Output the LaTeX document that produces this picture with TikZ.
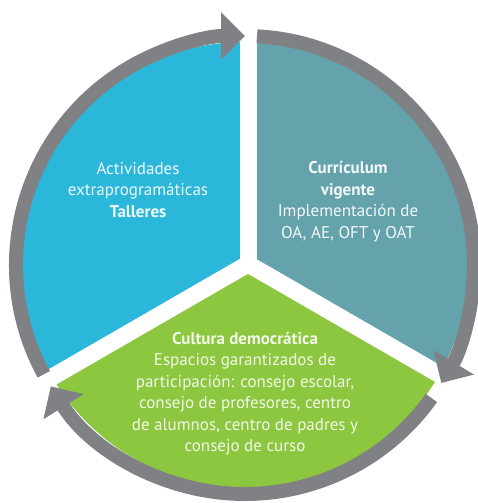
\documentclass[tikz,border=0pt]{standalone}
\usepackage{fontspec}
\setmainfont{PT Sans}
\usetikzlibrary{arrows.meta}
\definecolor{cblue}{HTML}{2AB7DA}
\definecolor{cteal}{HTML}{64A2AC}
\definecolor{cgreen}{HTML}{8DC63F}
\definecolor{cgray}{HTML}{808185}
\begin{document}
\begin{tikzpicture}[x=1pt,y=1pt,
  ring/.style={draw=cgray, line width=14pt, -{Triangle[length=24pt,width=46pt]}},
  gapline/.style={draw=white, line width=17pt},
  lbl/.style={align=center, font=\fontsize{17}{21.5}\selectfont, inner sep=0pt}]
\useasboundingbox (0,0) rectangle (478,503);
\coordinate (C) at (245,238);
\coordinate (Y) at (248,239);
\begin{scope}
\clip (C) circle[radius=223];
\fill[cblue] (Y) -- ([shift={(90:400)}]Y) -- ([shift={(150:400)}]Y) -- ([shift={(210:400)}]Y) -- cycle;
\fill[cteal] (Y) -- ([shift={(90:400)}]Y) -- ([shift={(30:400)}]Y) -- ([shift={(-30:400)}]Y) -- cycle;
\fill[cgreen] (Y) -- ([shift={(210:400)}]Y) -- ([shift={(270:400)}]Y) -- ([shift={(330:400)}]Y) -- cycle;
\end{scope}
\draw[gapline] (Y) -- ([shift={(90:250)}]Y);
\draw[gapline] (Y) -- ([shift={(210:250)}]Y);
\draw[gapline] (Y) -- ([shift={(330:250)}]Y);
\draw[ring] ([shift={(208.5:229)}]C) arc[start angle=208.5, end angle=90, radius=229];
\draw[ring] ([shift={(87:229)}]C) arc[start angle=87, end angle=-31, radius=229];
\draw[ring] ([shift={(324.5:229)}]C) arc[start angle=324.5, end angle=212, radius=229];
\node[lbl, text=white!92!cblue] (act) at (138,313) {Actividades\\extraprogramáticas\\\textbf{Talleres}};
\node[lbl, text=white!92!cteal] (cur) at (348,301.5) {\textbf{Currículum}\\\textbf{vigente}\\Implementación de\\OA, AE, OFT y OAT};
\node[lbl, text=white!88!cgreen] (cul) at (245,109.5) {\textbf{Cultura democrática}\\Espacios garantizados de\\participación: consejo escolar,\\consejo de profesores, centro\\de alumnos, centro de padres y\\consejo de curso};
\end{tikzpicture}
\end{document}
